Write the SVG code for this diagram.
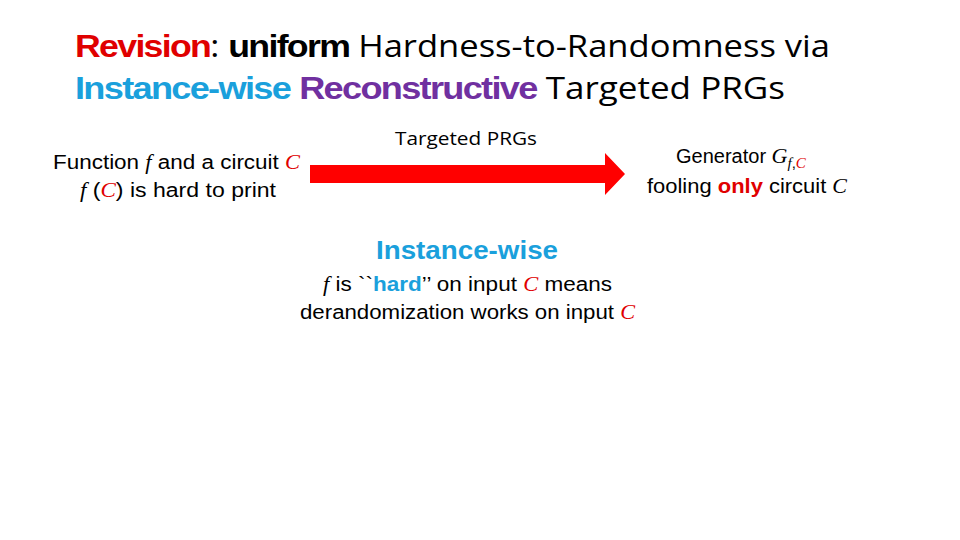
<svg xmlns="http://www.w3.org/2000/svg" width="960" height="540" viewBox="0 0 960 540">
<style>
.t{font-family:"Open Sans","Liberation Sans",sans-serif;fill:#000}
.b{font-family:"Liberation Sans",sans-serif;font-weight:bold;letter-spacing:-1.5px}
.s{font-family:"Liberation Sans",sans-serif;font-size:20px;fill:#000}
.m{font-family:"Liberation Serif",serif;font-style:italic}
.r{fill:#e00000}
.bl{fill:#1aa0dc}
</style>
<rect width="960" height="540" fill="#fff"/>
<g id="title">
<text x="75" y="57" class="t" font-size="31" textLength="755" lengthAdjust="spacingAndGlyphs"><tspan class="b r" font-size="32">Revision</tspan>: <tspan class="b" font-size="32">uniform</tspan> Hardness-to-Randomness via</text>
<text x="75" y="99" class="t" font-size="31" textLength="710" lengthAdjust="spacingAndGlyphs"><tspan class="b" font-size="32" fill="#1aa0dc">Instance-wise</tspan> <tspan class="b" font-size="32" fill="#7030a0">Reconstructive</tspan> Targeted PRGs</text>
</g>
<g id="left">
<text x="53" y="169" class="s" textLength="247" lengthAdjust="spacingAndGlyphs">Function <tspan class="m">f</tspan>  and a circuit <tspan class="m r">C</tspan></text>
<text x="80" y="197" class="s" textLength="196" lengthAdjust="spacingAndGlyphs"><tspan class="m">f</tspan> (<tspan class="m r">C</tspan>) is hard to print</text>
</g>
<g id="right">
<text x="676" y="163" class="s">Generator <tspan class="m" font-size="22">G</tspan><tspan class="m" font-size="15" dy="5">f</tspan><tspan font-size="15">,</tspan><tspan class="m r" font-size="15">C</tspan></text>
<text x="647" y="193" class="s" textLength="200" lengthAdjust="spacingAndGlyphs">fooling <tspan font-weight="bold" class="r">only</tspan> circuit <tspan class="m">C</tspan></text>
</g>
<g id="center">
<text x="467" y="259" text-anchor="middle" font-family="Liberation Sans,sans-serif" font-weight="bold" font-size="25" fill="#1aa0dc" textLength="182" lengthAdjust="spacingAndGlyphs">Instance-wise</text>
<text x="323" y="291" class="s" textLength="289" lengthAdjust="spacingAndGlyphs"><tspan class="m">f</tspan>  is ``<tspan font-weight="bold" class="bl">hard</tspan>’’ on input <tspan class="m r">C</tspan> means</text>
<text x="300" y="319" class="s" textLength="335" lengthAdjust="spacingAndGlyphs">derandomization works on input <tspan class="m r">C</tspan></text>
</g>
<g id="connectors">
<polygon points="310,165 605,165 605,153 625,174 605,195 605,183 310,183" fill="#f00"/>
<text x="395" y="145" font-family="Open Sans,Liberation Sans,sans-serif" font-size="18" fill="#000" textLength="142" lengthAdjust="spacingAndGlyphs">Targeted PRGs</text>
</g>
</svg>
